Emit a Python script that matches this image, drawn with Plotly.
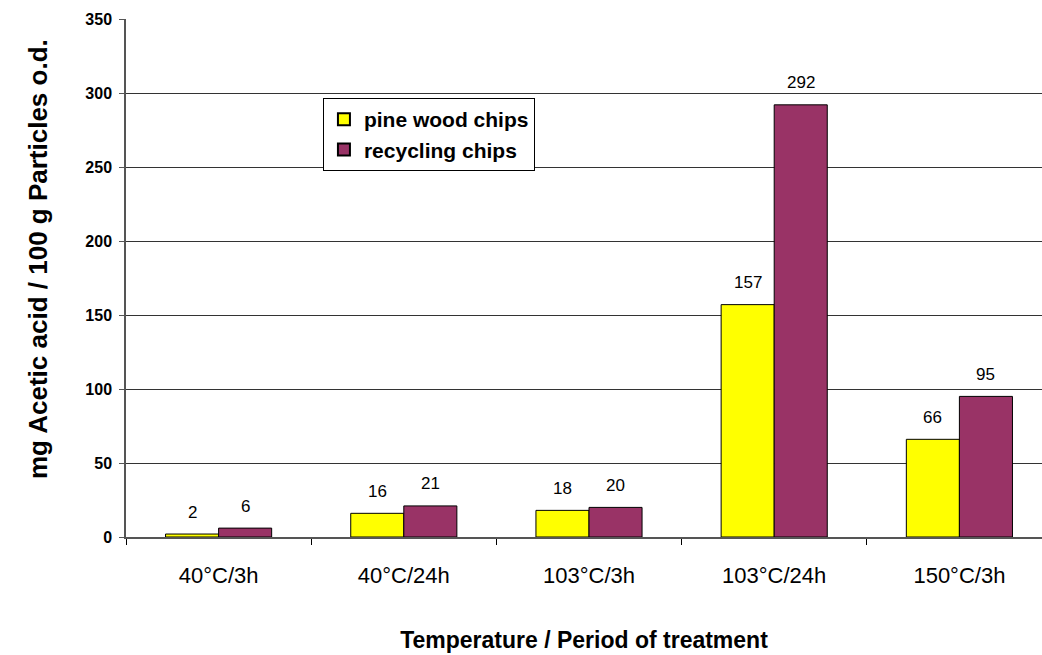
import plotly.graph_objects as go

categories = ["40°C/3h", "40°C/24h", "103°C/3h", "103°C/24h", "150°C/3h"]
pine_wood = [2, 16, 18, 157, 66]
recycling = [6, 21, 20, 292, 95]
series_names = ["pine wood chips", "recycling chips"]
y_ticks = [0, 50, 100, 150, 200, 250, 300, 350]

colors = ["#FFFF00", "#993366"]
bar_offset = 0.1435  # half of one bar's width in category units
FONT = "Arial, Liberation Sans, sans-serif"

fig = go.Figure()
for name, vals, col in zip(series_names, [pine_wood, recycling], colors):
    fig.add_trace(go.Bar(
        name=name, x=categories, y=vals,
        marker=dict(color=col, line=dict(color="black", width=1)),
    ))

# value labels above each bar
annotations = []
for i, cat in enumerate(categories):
    for vals, dx in ((pine_wood, -bar_offset), (recycling, bar_offset)):
        annotations.append(dict(
            x=i + dx, y=vals[i], xref="x", yref="y",
            text=str(vals[i]), showarrow=False, yshift=22,
            font=dict(family=FONT, size=17, color="black"),
        ))

# rotated y-axis title, positioned in paper units
annotations.append(dict(
    x=(38 - 126) / 916, y=(537 - 259) / 518, xref="paper", yref="paper",
    xanchor="center", yanchor="middle",
    text="<b>mg Acetic acid / 100 g Particles o.d.</b>",
    showarrow=False, textangle=-90,
    font=dict(family=FONT, size=26, color="black"),
))

fig.update_layout(
    width=1042, height=655,
    margin=dict(l=126, r=0, t=19, b=118),
    paper_bgcolor="white", plot_bgcolor="white",
    barmode="group", bargap=0.427, bargroupgap=0,
    showlegend=True,
    legend=dict(
        x=0.215, y=0.8475, xanchor="left", yanchor="top",
        bgcolor="white", bordercolor="black", borderwidth=1,
        font=dict(family=FONT, size=21, color="black", weight="bold"),
        itemsizing="constant", tracegroupgap=0,
    ),
    xaxis=dict(
        type="category", range=[-0.5, 4.446],
        tickson="boundaries", ticks="outside", ticklen=6, tickcolor="black",
        showline=True, linecolor="#555555", linewidth=1.5,
        tickfont=dict(family=FONT, size=22, color="black"),
        ticklabelstandoff=18,
        title=dict(text="<b>Temperature / Period of treatment</b>", standoff=45,
                   font=dict(family=FONT, size=23, color="black")),
        showgrid=False,
    ),
    yaxis=dict(
        range=[0, 350], tickvals=y_ticks,
        ticks="outside", ticklen=5, tickcolor="#555555",
        showline=True, linecolor="#555555", linewidth=1.5,
        showgrid=True, gridcolor="#333333", gridwidth=1,
        tickfont=dict(family=FONT, size=16, color="black", weight="bold"),
        ticklabelstandoff=4,
        zeroline=False,
    ),
    annotations=annotations,
)

fig.write_html("out.html")
